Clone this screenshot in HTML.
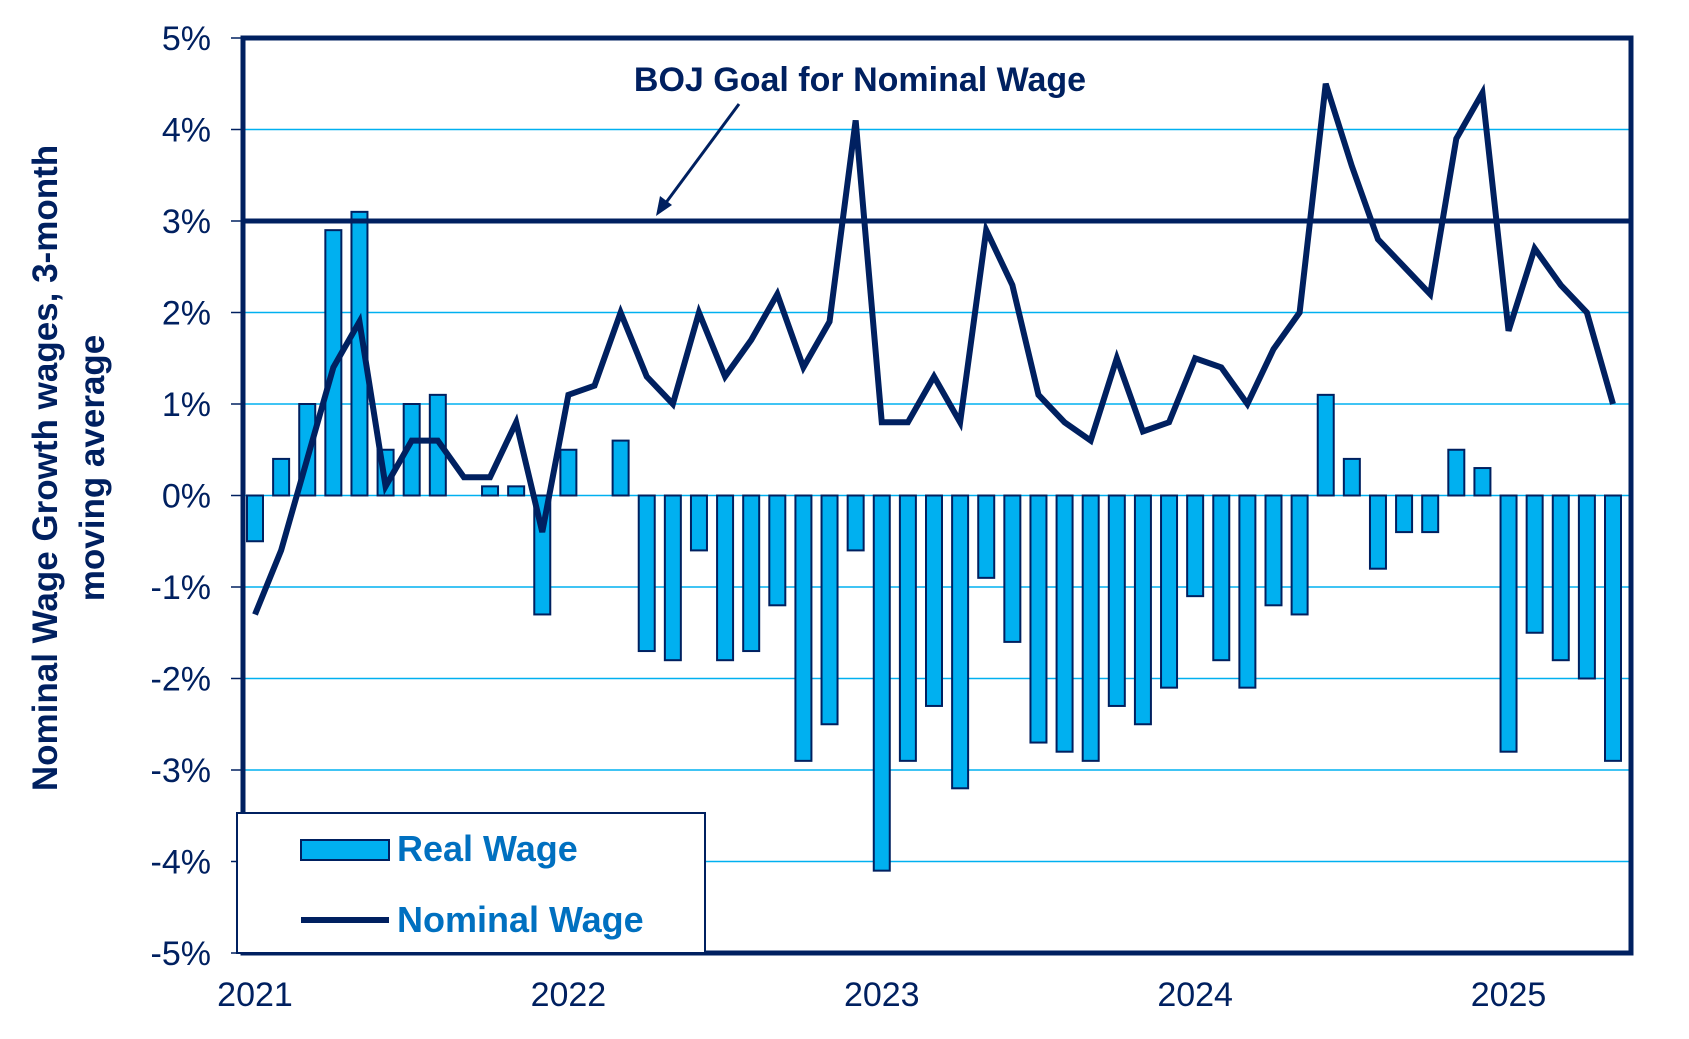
<!DOCTYPE html>
<html><head><meta charset="utf-8"><style>
html,body{margin:0;padding:0;background:#fff;}
svg{display:block;font-family:"Liberation Sans",Arial,sans-serif;}
</style></head><body>
<svg id="chart" width="1689" height="1039" viewBox="0 0 1689 1039" xmlns="http://www.w3.org/2000/svg">
<g id="grid"></g>
<g id="bars"></g>
<line id="goal" stroke="#002060" stroke-width="5"/>
<g id="line"></g>
<rect x="243" y="38" width="1388" height="915" fill="none" stroke="#002060" stroke-width="5"/>
<g id="yticks"></g>
<g id="xticks"></g>
<text transform="translate(57,468) rotate(-90)" text-anchor="middle" font-size="35" font-weight="bold" fill="#002060">Nominal Wage Growth wages, 3-month</text>
<text transform="translate(104,468) rotate(-90)" text-anchor="middle" font-size="35" font-weight="bold" fill="#002060">moving average</text>
<text x="860" y="91" text-anchor="middle" font-size="34" font-weight="bold" fill="#002060">BOJ Goal for Nominal Wage</text>
<line x1="739" y1="104" x2="662" y2="208" stroke="#002060" stroke-width="3"/>
<polygon points="656,216 660,196 672,205" fill="#002060"/>
<g>
<rect x="237" y="813" width="468" height="140" fill="#fff" stroke="#002060" stroke-width="2"/>
<rect x="301" y="840" width="88" height="20" fill="#00b0f0" stroke="#002060" stroke-width="2"/>
<text x="397" y="861" font-size="36" font-weight="bold" fill="#0070c0">Real Wage</text>
<line x1="301" y1="920" x2="389" y2="920" stroke="#002060" stroke-width="6"/>
<text x="397" y="932" font-size="36" font-weight="bold" fill="#0070c0">Nominal Wage</text>
</g>
</svg>
<script>
const yTicks=[5,4,3,2,1,0,-1,-2,-3,-4,-5];
const yTickLabels=["5%","4%","3%","2%","1%","0%","-1%","-2%","-3%","-4%","-5%"];
const yearLabels=["2021","2022","2023","2024","2025"];
const goalValue=3;
const realWage=[-0.5,0.4,1.0,2.9,3.1,0.5,1.0,1.1,0,0.1,0.1,-1.3,
0.5,0,0.6,-1.7,-1.8,-0.6,-1.8,-1.7,-1.2,-2.9,-2.5,-0.6,
-4.1,-2.9,-2.3,-3.2,-0.9,-1.6,-2.7,-2.8,-2.9,-2.3,-2.5,-2.1,
-1.1,-1.8,-2.1,-1.2,-1.3,1.1,0.4,-0.8,-0.4,-0.4,0.5,0.3,
-2.8,-1.5,-1.8,-2.0,-2.9];
const nominalWage=[-1.3,-0.6,0.4,1.4,1.9,0.1,0.6,0.6,0.2,0.2,0.8,-0.4,
1.1,1.2,2.0,1.3,1.0,2.0,1.3,1.7,2.2,1.4,1.9,4.1,
0.8,0.8,1.3,0.8,2.9,2.3,1.1,0.8,0.6,1.5,0.7,0.8,
1.5,1.4,1.0,1.6,2.0,4.5,3.6,2.8,2.5,2.2,3.9,4.4,
1.8,2.7,2.3,2.0,1.0];
const NS="http://www.w3.org/2000/svg";
const top0=38,bot0=953,left0=243,right0=1631;
function y(v){return top0+(5-v)*(bot0-top0)/10;}
function x(i){return 255+i*(1613-255)/52;}
function mk(t,a,p){const e=document.createElementNS(NS,t);for(const k in a)e.setAttribute(k,a[k]);p.appendChild(e);return e;}
const grid=document.getElementById('grid'),yt=document.getElementById('yticks');
yTicks.forEach((v,i)=>{
  if(v<5&&v>-5){const g=mk('line',{x1:left0,x2:right0,y1:y(v),y2:y(v),stroke:'#00b0f0','stroke-width':1.5},grid);
  
  }
  const tk=mk('line',{x1:left0-12,x2:left0,y1:y(v),y2:y(v),stroke:'#002060','stroke-width':1.5},yt);
  
  
  const t=mk('text',{x:211,y:y(v)+12,'text-anchor':'end','font-size':34,fill:'#002060'},yt);
  
  
  t.textContent=yTickLabels[i];
});
const bars=document.getElementById('bars');
realWage.forEach((v,i)=>{
  if(v===0)return;
  const r=mk('rect',{x:x(i)-8,y:Math.min(y(v),y(0)),width:16,height:Math.abs(y(v)-y(0)),fill:'#00b0f0',stroke:'#002060','stroke-width':2},bars);
  
  
});
const goal=document.getElementById('goal');
goal.setAttribute('x1',left0);goal.setAttribute('x2',right0);
goal.setAttribute('y1',y(goalValue));goal.setAttribute('y2',y(goalValue));
const pl=mk('polyline',{points:nominalWage.map((v,i)=>x(i)+','+y(v)).join(' '),fill:'none',stroke:'#002060','stroke-width':6,'stroke-linejoin':'miter'},document.getElementById('line'));


const xt=document.getElementById('xticks');
yearLabels.forEach((l,i)=>{
  const t=mk('text',{x:x(i*12),y:1006,'text-anchor':'middle','font-size':34,fill:'#002060'},xt);
  
  
  t.textContent=l;
});
</script>
</body></html>
